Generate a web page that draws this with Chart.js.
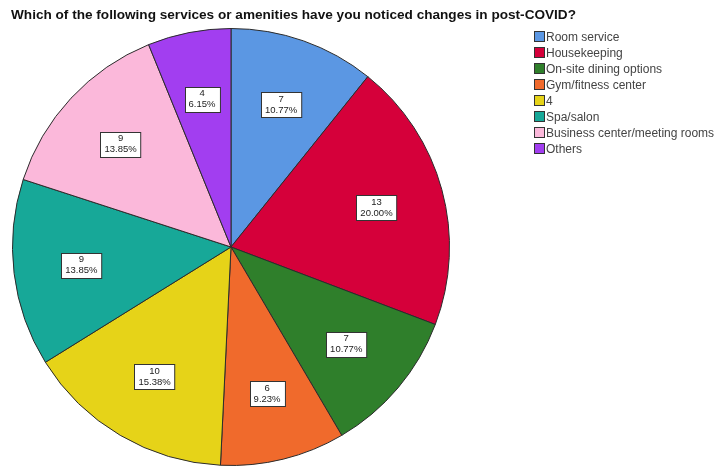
<!DOCTYPE html>
<html>
<head>
<meta charset="utf-8">
<script src="https://cdn.jsdelivr.net/npm/chart.js@4/dist/chart.umd.min.js"></script>
<style>
  html, body { margin: 0; padding: 0; background: #ffffff; }
  #wrap { width: 721px; height: 467px; position: relative; }
</style>
</head>
<body>
<div id="wrap"><canvas id="c" width="721" height="467"></canvas></div>
<script>
const titleText = 'Which of the following services or amenities have you noticed changes in post-COVID?';
const categories = ['Room service', 'Housekeeping', 'On-site dining options', 'Gym/fitness center', '4', 'Spa/salon', 'Business center/meeting rooms', 'Others'];
const counts = [7, 13, 7, 6, 10, 9, 9, 4];
const percentLabels = ['10.77%', '20.00%', '10.77%', '9.23%', '15.38%', '13.85%', '13.85%', '6.15%'];
const sliceColors = ['#5b97e3', '#d5003a', '#2f7f2b', '#f06a2c', '#e6d318', '#17a898', '#fbb8da', '#a23ef0'];

// Title at the top left
const titlePlugin = {
  id: 'titleLeft',
  afterDraw(chart) {
    const ctx = chart.ctx;
    ctx.save();
    ctx.font = 'bold 13.6px "Liberation Sans", Arial, sans-serif';
    ctx.fillStyle = '#111';
    ctx.textBaseline = 'alphabetic';
    ctx.textAlign = 'left';
    ctx.fillText(titleText, 11, 19);
    ctx.restore();
  }
};

// Legend list to the right of the pie
const legendPlugin = {
  id: 'sideLegend',
  afterDraw(chart) {
    const ctx = chart.ctx;
    const ds = chart.data.datasets[0];
    ctx.save();
    ctx.font = '12px "Liberation Sans", Arial, sans-serif';
    ctx.textBaseline = 'middle';
    chart.data.labels.forEach((lab, i) => {
      const y = 37 + i * 16;
      ctx.fillStyle = ds.backgroundColor[i];
      ctx.fillRect(534.5, y - 5.5, 10, 10);
      ctx.strokeStyle = '#333';
      ctx.lineWidth = 1;
      ctx.strokeRect(534.5, y - 5.5, 10, 10);
      ctx.fillStyle = '#444';
      ctx.fillText(lab, 546, y + 0.5);
    });
    ctx.restore();
  }
};

// Count / percent boxes inside each slice
const sliceLabelPlugin = {
  id: 'sliceLabels',
  afterDatasetsDraw(chart) {
    const ctx = chart.ctx;
    const meta = chart.getDatasetMeta(0);
    ctx.save();
    ctx.font = '9.5px "Liberation Sans", Arial, sans-serif';
    ctx.textAlign = 'center';
    ctx.textBaseline = 'middle';
    meta.data.forEach((arc, i) => {
      const mid = (arc.startAngle + arc.endAngle) / 2;
      const r = arc.outerRadius * 0.69;
      const x = arc.x + Math.cos(mid) * r;
      const y = arc.y + Math.sin(mid) * r;
      const t1 = String(counts[i]);
      const t2 = percentLabels[i];
      const w = Math.max(ctx.measureText(t1).width, ctx.measureText(t2).width) + 8;
      const h = 25;
      const bx = Math.round(x - w / 2) + 0.5;
      const by = Math.round(y - h / 2) + 0.5;
      ctx.fillStyle = '#ffffff';
      ctx.fillRect(bx, by, w, h);
      ctx.strokeStyle = '#333';
      ctx.lineWidth = 1;
      ctx.strokeRect(bx, by, w, h);
      ctx.fillStyle = '#222';
      ctx.fillText(t1, x, y - 5.5);
      ctx.fillText(t2, x, y + 5.5);
    });
    ctx.restore();
  }
};

new Chart(document.getElementById('c'), {
  type: 'pie',
  data: {
    labels: categories,
    datasets: [{
      data: counts,
      backgroundColor: sliceColors,
      borderColor: '#2b2b2b',
      borderWidth: 1
    }]
  },
  options: {
    responsive: false,
    animation: false,
    layout: { padding: { top: 28, bottom: 1, left: 12, right: 271 } },
    plugins: {
      legend: { display: false },
      tooltip: { enabled: false },
      title: { display: false }
    }
  },
  plugins: [titlePlugin, legendPlugin, sliceLabelPlugin]
});
</script>
</body>
</html>
